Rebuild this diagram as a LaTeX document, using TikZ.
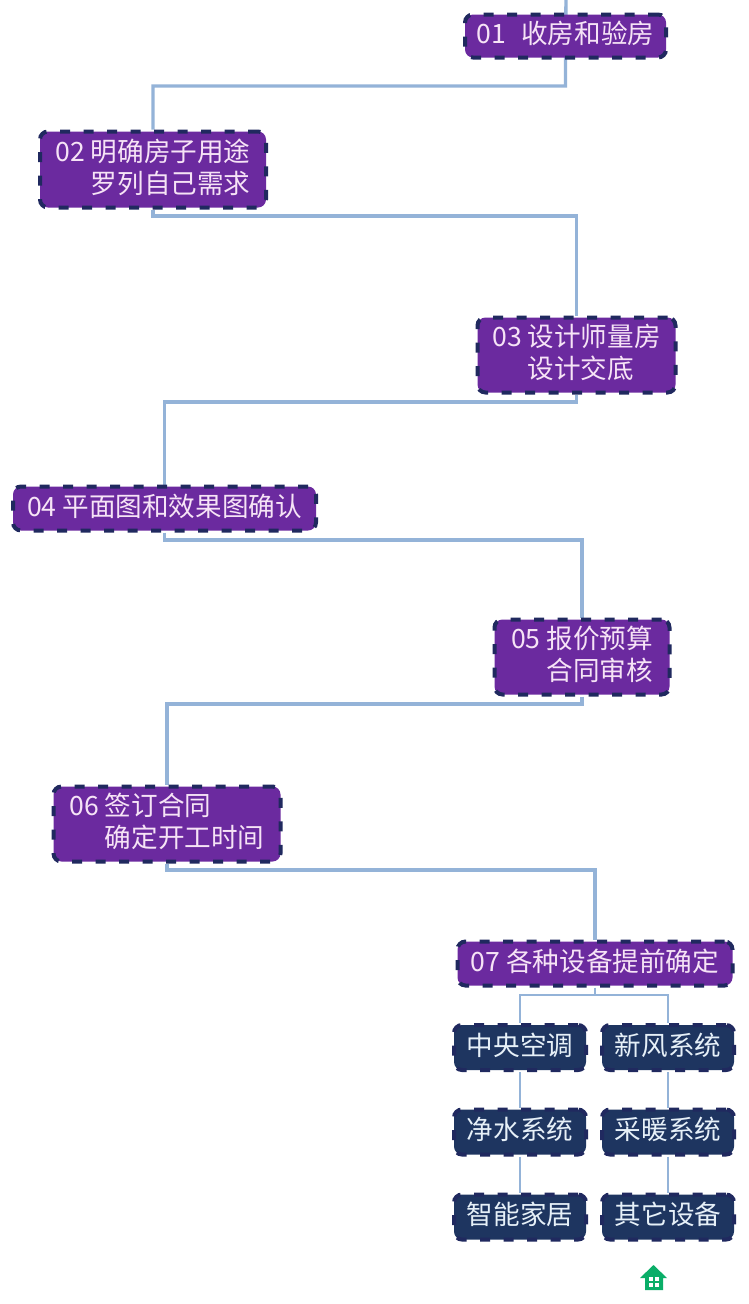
\documentclass[tikz,border=0pt]{standalone}
\usepackage{fontspec}
\setmainfont{Noto Sans CJK SC}
\usetikzlibrary{backgrounds}
\definecolor{purplebox}{HTML}{6B2A9F}
\definecolor{navyedge}{HTML}{20295F}
\definecolor{navybox}{HTML}{1E3560}
\definecolor{pinktext}{HTML}{F6E3F6}
\definecolor{bluetext}{HTML}{E6F0F8}
\definecolor{linkblue}{HTML}{94B3D8}
\definecolor{housegreen}{HTML}{0AAE68}
\newcommand{\numgap}{\hphantom{00 }}
\tikzset{
  x=1pt,y=-1pt,
  basebox/.style={rounded corners=8pt,line width=4pt,dash pattern=on 10pt off 13.5pt,
    inner sep=0pt,align=left,font=\fontsize{26.6}{32}\selectfont,anchor=center,text depth=7pt},
  stagebox/.style={basebox,fill=purplebox,draw=navyedge,text=pinktext},
  itembox/.style={basebox,fill=navybox,draw=navyedge,text=bluetext,minimum width=132pt,minimum height=45pt},
  link/.style={draw=linkblue,line width=3.4pt,line join=miter},
  sublink/.style={draw=linkblue,line width=2.6pt},
}
\begin{document}
\begin{tikzpicture}
\useasboundingbox (0,0) rectangle (748,1304);
\node[stagebox,minimum width=201pt,minimum height=43pt] (s1) at (565.5,36) {01\hspace{15pt}收房和验房};
\node[stagebox,minimum width=226pt,minimum height=76pt] (s2) at (153,169.5) {02 明确房子用途\\\numgap 罗列自己需求};
\node[stagebox,minimum width=198pt,minimum height=75pt] (s3) at (576.5,355) {03 设计师量房\\\numgap 设计交底\hphantom{房}};
\node[stagebox,minimum width=303pt,minimum height=44pt] (s4) at (164.5,508.5) {04 平面图和效果图确认};
\node[stagebox,minimum width=175pt,minimum height=75pt] (s5) at (582,657) {05 报价预算\\\numgap 合同审核};
\node[stagebox,minimum width=227pt,minimum height=75pt] (s6) at (167,824) {06 签订合同\hphantom{时间}\\\numgap 确定开工时间};
\node[stagebox,minimum width=275pt,minimum height=44pt] (s7) at (595,963.5) {07 各种设备提前确定};
\node[itembox] (a1) at (520,1047.5) {中央空调};
\node[itembox] (b1) at (668,1047.5) {新风系统};
\node[itembox] (a2) at (520,1132) {净水系统};
\node[itembox] (b2) at (668,1132) {采暖系统};
\node[itembox] (a3) at (520,1217) {智能家居};
\node[itembox] (b3) at (668,1217) {其它设备};
\coordinate (start) at (566,0);
\begin{pgfonlayer}{background}
\fill[white] (0,0) rectangle (748,1304);
\draw[link] (start) -- (s1.south) -- ++(0,26.5) -| (s2.north);
\draw[link] (s2.south) -- ++(0,6.5) -| (s3.north);
\draw[link] (s3.south) -- ++(0,7.5) -| (s4.north);
\draw[link] (s4.south) -- ++(0,7.5) -| (s5.north);
\draw[link] (s5.south) -- ++(0,7.5) -| (s6.north);
\draw[link] (s6.south) -- ++(0,6.5) -| (s7.north);
\draw[sublink] (s7.south) -- ++(0,7.5) coordinate (fork);
\draw[sublink] (a1.north) |- (fork) -| (b1.north);
\draw[sublink] (a1) -- (a2);
\draw[sublink] (a2) -- (a3);
\draw[sublink] (b1) -- (b2);
\draw[sublink] (b2) -- (b3);
\end{pgfonlayer}
% house icon
\fill[housegreen] (653.5,1265) -- (667,1278) -- (663,1278) -- (663,1290) -- (645,1290) -- (645,1278) -- (640,1278) -- cycle;
\fill[white] (648.5,1277) rectangle (652.5,1280.5);
\fill[white] (655,1277) rectangle (659,1280.5);
\fill[white] (648.5,1283) rectangle (652.5,1286.5);
\fill[white] (655,1283) rectangle (659,1286.5);
\end{tikzpicture}
\end{document}
